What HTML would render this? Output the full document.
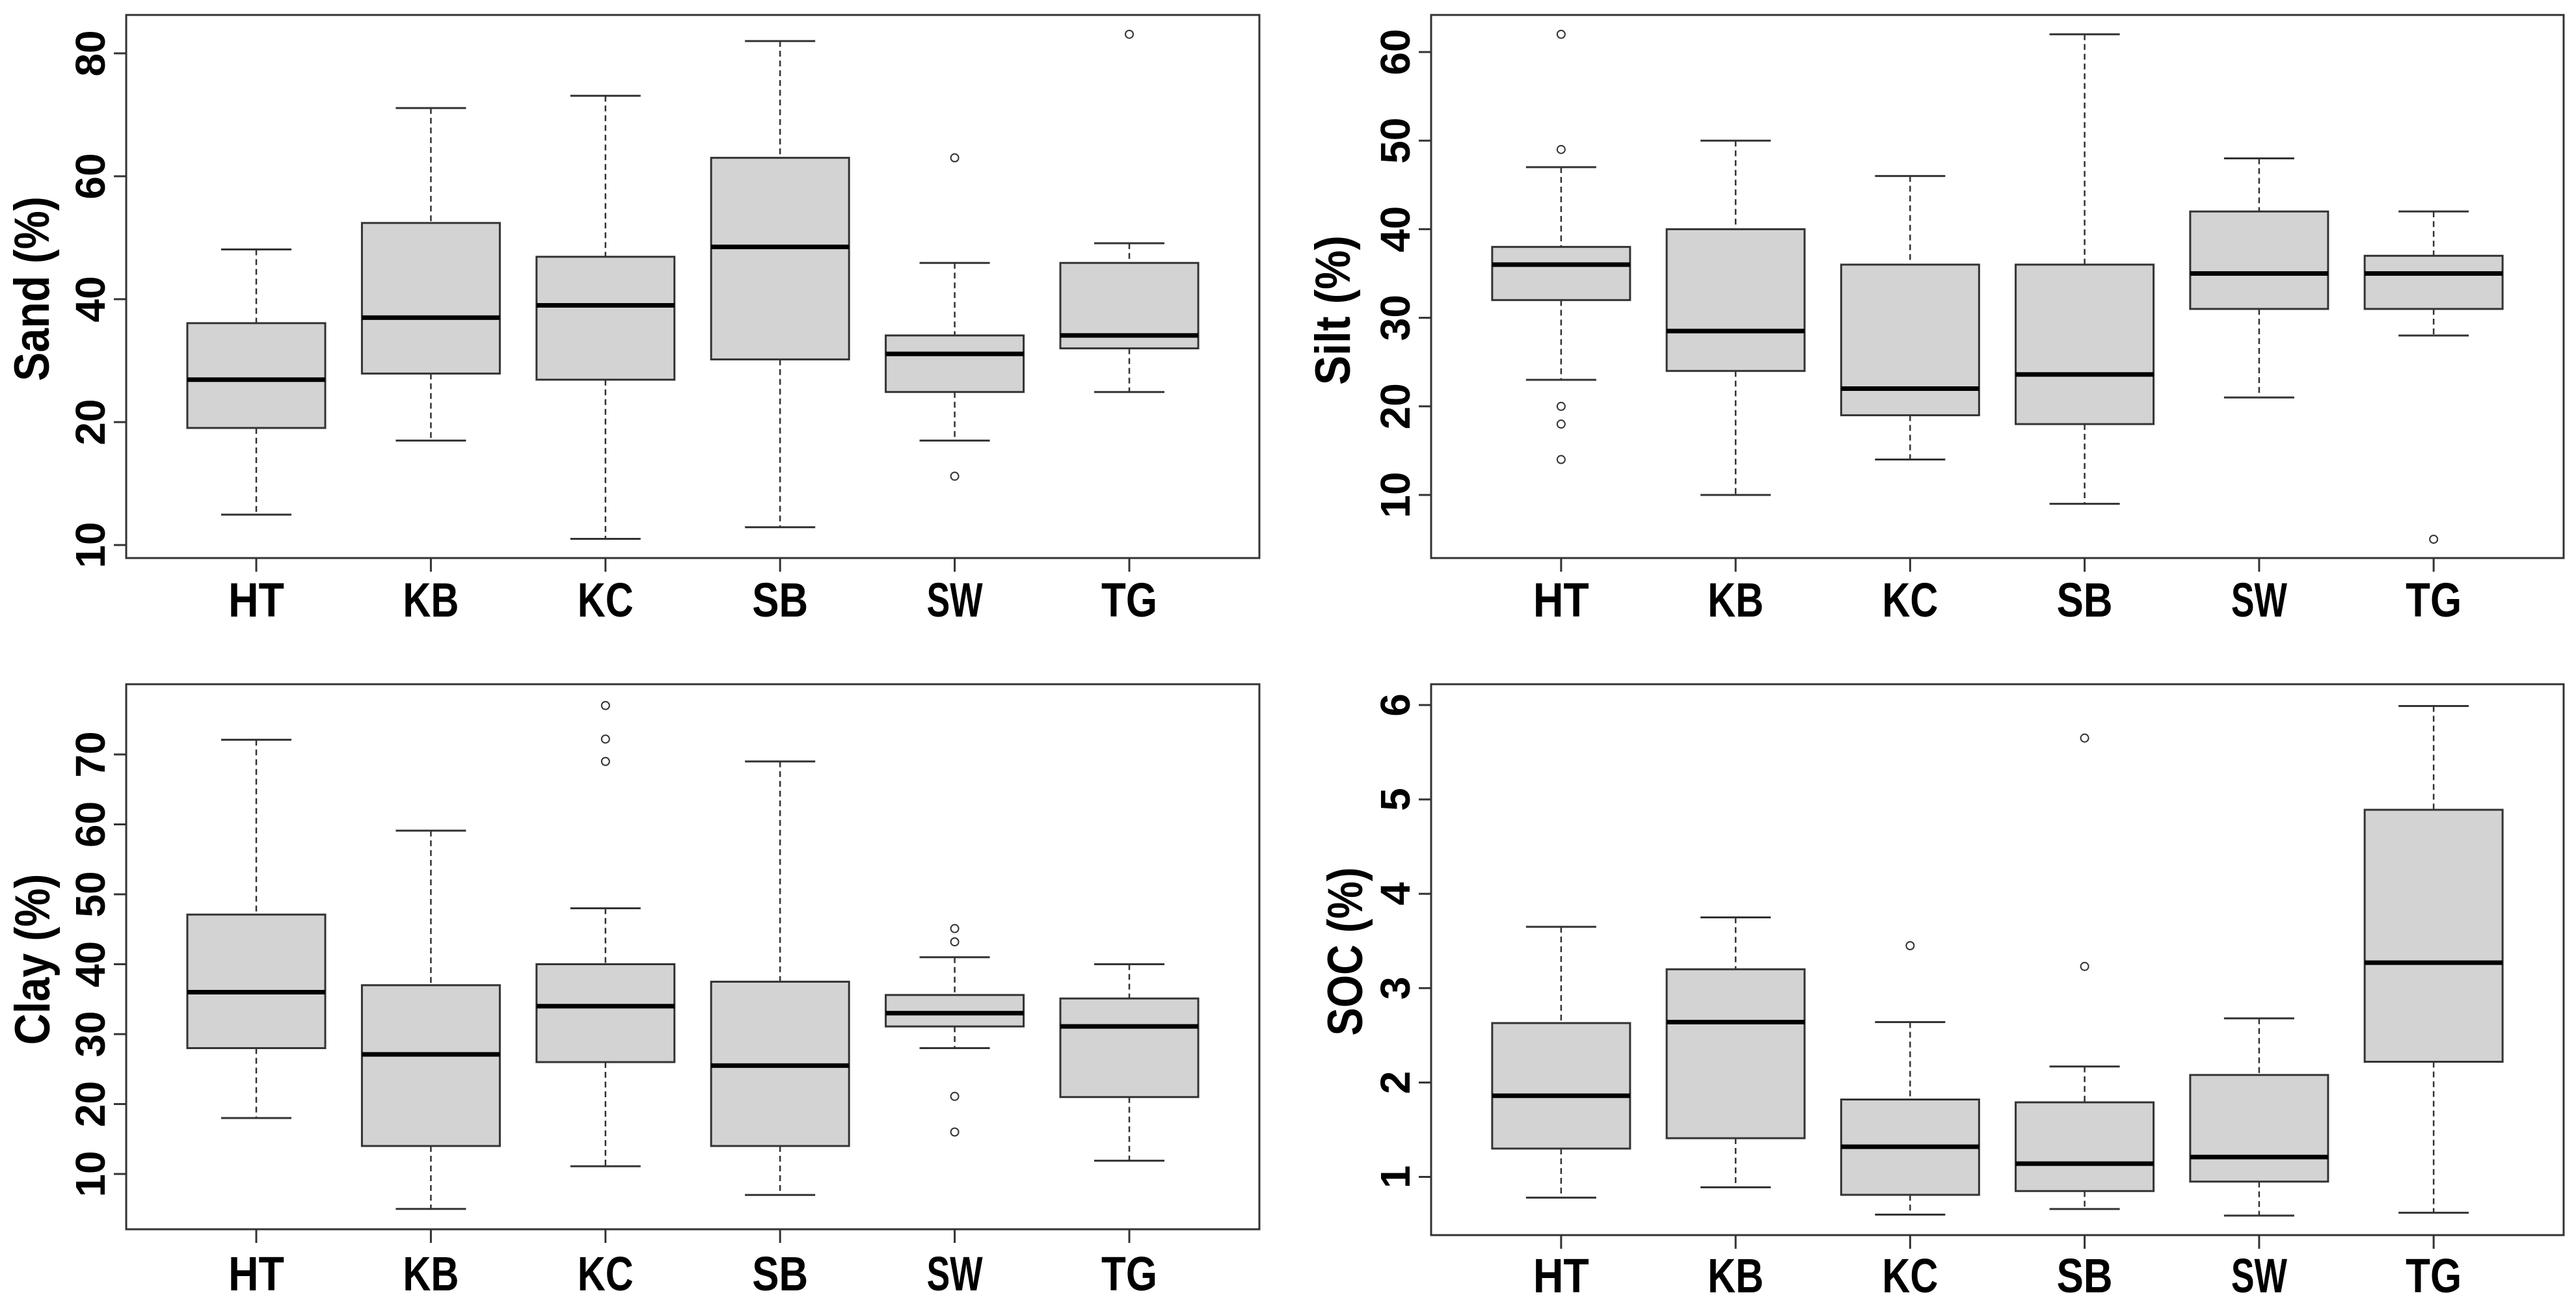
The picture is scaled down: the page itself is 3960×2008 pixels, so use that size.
<!DOCTYPE html>
<html>
<head>
<meta charset="utf-8">
<style>
html,body{margin:0;padding:0;background:#fff;}
svg{display:block;}
.tick{font-family:"Liberation Sans",sans-serif;font-weight:bold;font-size:64px;fill:#000;}
.ttl{font-family:"Liberation Sans",sans-serif;font-weight:bold;font-size:76px;fill:#000;}
.xl{font-family:"Liberation Sans Narrow","Liberation Sans",sans-serif;font-weight:bold;font-size:74px;fill:#000;}
</style>
</head>
<body>
<svg id="chart" width="3960" height="2008" viewBox="0 0 3960 2008" xmlns="http://www.w3.org/2000/svg"></svg>
<script>
const categories = ["HT","KB","KC","SB","SW","TG"];

const sandLower  = [4.95, 17.0, 1.0, 2.9, 17.0, 24.9];
const sandQ1     = [19.05, 27.9, 26.9, 30.2, 24.9, 32.0];
const sandMedian = [26.9, 37.0, 39.0, 48.5, 31.1, 34.1];
const sandQ3     = [36.1, 52.4, 46.9, 63.0, 34.1, 45.9];
const sandUpper  = [48.1, 71.1, 73.1, 82.0, 45.9, 49.1];
const sandOutliers = [[], [], [], [], [63.0, 11.2], [83.1]];
const sandTickValues = [0, 20, 40, 60, 80];
const sandTickLabels = ["10", "20", "40", "60", "80"];

const siltLower  = [23, 10, 14, 9, 21, 28];
const siltQ1     = [32, 24, 19, 18, 31, 31];
const siltMedian = [36, 28.5, 22, 23.6, 35, 35];
const siltQ3     = [38, 40, 36, 36, 42, 37];
const siltUpper  = [47, 50, 46, 62, 48, 42];
const siltOutliers = [[62, 49, 20, 18, 14], [], [], [], [], [5]];
const siltTickValues = [10, 20, 30, 40, 50, 60];
const siltTickLabels = ["10", "20", "30", "40", "50", "60"];

const clayLower  = [18.0, 5.0, 11.1, 7.0, 28.0, 11.9];
const clayQ1     = [28.0, 14.0, 26.0, 14.0, 31.1, 21.0];
const clayMedian = [36.0, 27.1, 34.0, 25.5, 33.0, 31.1];
const clayQ3     = [47.1, 37.0, 40.0, 37.5, 35.6, 35.1];
const clayUpper  = [72.1, 59.1, 48.0, 69.0, 41.0, 40.0];
const clayOutliers = [[], [], [77.0, 72.2, 69.0], [], [45.1, 43.2, 21.1, 16.0], []];
const clayTickValues = [10, 20, 30, 40, 50, 60, 70];
const clayTickLabels = ["10", "20", "30", "40", "50", "60", "70"];

const socLower  = [0.78, 0.89, 0.60, 0.66, 0.59, 0.62];
const socQ1     = [1.30, 1.41, 0.81, 0.85, 0.95, 2.22];
const socMedian = [1.86, 2.64, 1.32, 1.14, 1.21, 3.27];
const socQ3     = [2.63, 3.20, 1.82, 1.79, 2.08, 4.89];
const socUpper  = [3.65, 3.75, 2.64, 2.17, 2.68, 5.99];
const socOutliers = [[], [], [3.45], [5.65, 3.23], [], []];
const socTickValues = [1, 2, 3, 4, 5, 6];
const socTickLabels = ["1", "2", "3", "4", "5", "6"];

const NS = "http://www.w3.org/2000/svg";
const svg = document.getElementById("chart");
function mk(tag, attrs, parent) {
  const e = document.createElementNS(NS, tag);
  for (const k in attrs) e.setAttribute(k, attrs[k]);
  parent.appendChild(e);
  return e;
}

const panels = [
  {key:"sand", title:"Sand (%)", L:194, T:23, R:1936, B:858, v1:0, y1:838, v2:80, y2:82,
   lo:sandLower,q1:sandQ1,md:sandMedian,q3:sandQ3,up:sandUpper,out:sandOutliers,tv:sandTickValues,tl:sandTickLabels,
   titleX:75, titleY:444, titleLen:284, xlabY:948},
  {key:"silt", title:"Silt (%)", L:2200, T:23, R:3941, B:858, v1:10, y1:761, v2:60, y2:80,
   lo:siltLower,q1:siltQ1,md:siltMedian,q3:siltQ3,up:siltUpper,out:siltOutliers,tv:siltTickValues,tl:siltTickLabels,
   titleX:2075, titleY:477, titleLen:230, xlabY:948},
  {key:"clay", title:"Clay (%)", L:194, T:1052, R:1936, B:1890, v1:10, y1:1805, v2:70, y2:1160,
   lo:clayLower,q1:clayQ1,md:clayMedian,q3:clayQ3,up:clayUpper,out:clayOutliers,tv:clayTickValues,tl:clayTickLabels,
   titleX:76, titleY:1475, titleLen:263, xlabY:1984},
  {key:"soc", title:"SOC (%)", L:2200, T:1052, R:3941, B:1899, v1:1, y1:1809.5, v2:6, y2:1084,
   lo:socLower,q1:socQ1,md:socMedian,q3:socQ3,up:socUpper,out:socOutliers,tv:socTickValues,tl:socTickLabels,
   titleX:2094, titleY:1463, titleLen:259, xlabY:1987}
];

panels.forEach(p => {
  const g = mk("g", {}, svg);
  
  
  const yS = v => p.y1 + (v - p.v1) * (p.y2 - p.y1) / (p.v2 - p.v1);
  const sp = (p.R - p.L) / 6.49;
  const xS = i => p.L + 0.745 * sp + i * sp;
  const hw = 106, cw = 54;

  categories.forEach((c, i) => {
    const x = xS(i);
    const bg = mk("g", {}, g);
    
    
    mk("line", {x1:x, x2:x, y1:yS(p.up[i]), y2:yS(p.q3[i]), stroke:"#333", "stroke-width":2.5, "stroke-dasharray":"9 6"}, bg);
    mk("line", {x1:x, x2:x, y1:yS(p.q1[i]), y2:yS(p.lo[i]), stroke:"#333", "stroke-width":2.5, "stroke-dasharray":"9 6"}, bg);
    mk("line", {x1:x-cw, x2:x+cw, y1:yS(p.up[i]), y2:yS(p.up[i]), stroke:"#333", "stroke-width":3}, bg);
    mk("line", {x1:x-cw, x2:x+cw, y1:yS(p.lo[i]), y2:yS(p.lo[i]), stroke:"#333", "stroke-width":3}, bg);
    mk("rect", {x:x-hw, y:yS(p.q3[i]), width:2*hw, height:yS(p.q1[i]) - yS(p.q3[i]), fill:"#d3d3d3", stroke:"#333", "stroke-width":3}, bg);
    mk("line", {x1:x-hw, x2:x+hw, y1:yS(p.md[i]), y2:yS(p.md[i]), stroke:"#000", "stroke-width":7}, bg);
    p.out[i].forEach(v => {
      const o = mk("circle", {cx:x, cy:yS(v), r:6, fill:"none", stroke:"#333", "stroke-width":2}, bg);
      
      
    });
  });

  const fr = mk("rect", {x:p.L, y:p.T, width:p.R-p.L, height:p.B-p.T, fill:"none", stroke:"#333", "stroke-width":3}, g);
  
  

  p.tv.forEach((v, k) => {
    const y = yS(v);
    mk("line", {x1:p.L-19, x2:p.L, y1:y, y2:y, stroke:"#333", "stroke-width":3}, g);
    const t = mk("text", {class:"tick", x:0, y:0, "text-anchor":"middle", transform:"translate(" + (p.L-33) + "," + y + ") rotate(-90)"}, g);
    t.textContent = p.tl[k];
    
    
  });

  categories.forEach((c, i) => {
    const x = xS(i);
    mk("line", {x1:x, x2:x, y1:p.B, y2:p.B+21, stroke:"#333", "stroke-width":3}, g);
    const t = mk("text", {class:"xl", x:x - 43, y:p.xlabY, textLength:86, lengthAdjust:"spacingAndGlyphs"}, g);
    t.textContent = c;
    
    
  });

  const tt = mk("text", {class:"ttl", x:-p.titleLen/2, y:0, textLength:p.titleLen, lengthAdjust:"spacingAndGlyphs", transform:"translate(" + p.titleX + "," + p.titleY + ") rotate(-90)"}, g);
  tt.textContent = p.title;
  
  
});
</script>
</body>
</html>
